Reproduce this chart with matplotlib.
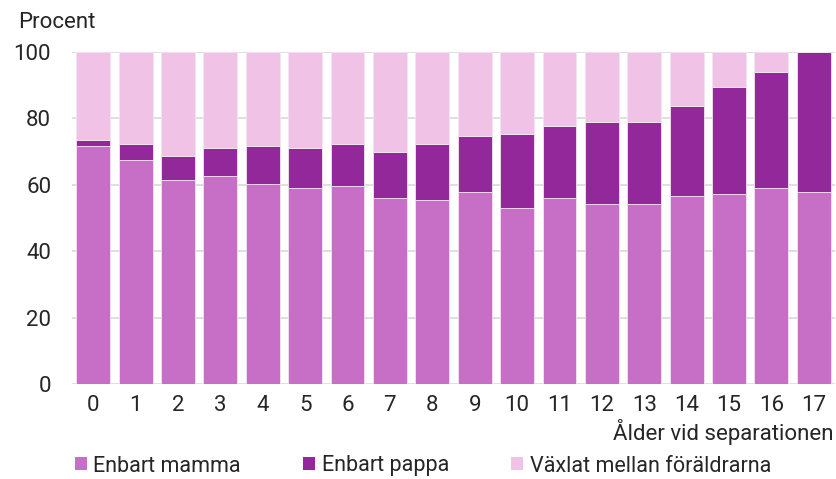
import numpy as np
import matplotlib
matplotlib.use("Agg")
import matplotlib.pyplot as plt
from matplotlib.patches import Patch

plt.rcParams['font.family'] = ['Roboto', 'DejaVu Sans']

# age at separation
ages = [str(a) for a in range(18)]

# share of children (percent)
enbart_mamma = [71.7, 67.5, 61.4, 62.6, 60.2, 59.0, 59.6, 56.0, 55.4,
                57.8, 53.1, 56.0, 54.2, 54.2, 56.6, 57.2, 59.0, 57.8]
enbart_pappa = [1.8, 4.7, 7.2, 8.4, 11.4, 12.0, 12.6, 13.8, 16.8,
                16.8, 22.1, 21.6, 24.7, 24.7, 27.0, 32.4, 34.9, 42.2]
vaxlat = [100 - m - p for m, p in zip(enbart_mamma, enbart_pappa)]

series_names = ['Enbart mamma', 'Enbart pappa', 'Växlat mellan föräldrarna']
colors = ['#C76FC7', '#92289A', '#F0C3E6']
yticks = [0, 20, 40, 60, 80, 100]

fig = plt.figure(figsize=(8.37, 4.79), dpi=100)
ax = fig.add_axes([72 / 837, 1 - 384 / 479, (835 - 72) / 837, (384 - 52) / 479])

x = np.arange(len(ages))
bottom = np.zeros(len(ages))
for vals, col in zip([enbart_mamma, enbart_pappa, vaxlat], colors):
    ax.bar(x, vals, width=0.8, bottom=bottom, color=col,
           edgecolor='#F4E4F2', linewidth=0.6, zorder=2)
    bottom += np.array(vals)

ax.set_xlim(-0.5, 17.5)
ax.set_ylim(0, 100)
ax.set_yticks(yticks)
ax.set_xticks(x)
ax.set_xticklabels(ages)
ax.yaxis.grid(True, color='#D9D9D9', linewidth=1.2, zorder=0)
ax.set_axisbelow(True)
for s in ax.spines.values():
    s.set_visible(False)
ax.tick_params(axis='both', length=0, labelsize=16, labelcolor='#262626')
ax.tick_params(axis='y', pad=15)
ax.tick_params(axis='x', pad=8)

fig.text(18 / 837, 1 - 23 / 479, 'Procent', fontsize=16, color='#262626',
         ha='left', va='center')
fig.text(834 / 837, 1 - 432 / 479, 'Ålder vid separationen', fontsize=16,
         color='#262626', ha='right', va='center')

handles = [Patch(facecolor=c, edgecolor='none') for c in colors]
fig.legend(handles, series_names, loc='center left',
           bbox_to_anchor=(75 / 837, 1 - 466 / 479), ncol=3, frameon=False,
           fontsize=15.5, handlelength=0.55, handleheight=0.55, handletextpad=0.3,
           columnspacing=2.9, labelcolor='#262626', borderaxespad=0,
           borderpad=0)

fig.savefig('out.png', dpi=100)
